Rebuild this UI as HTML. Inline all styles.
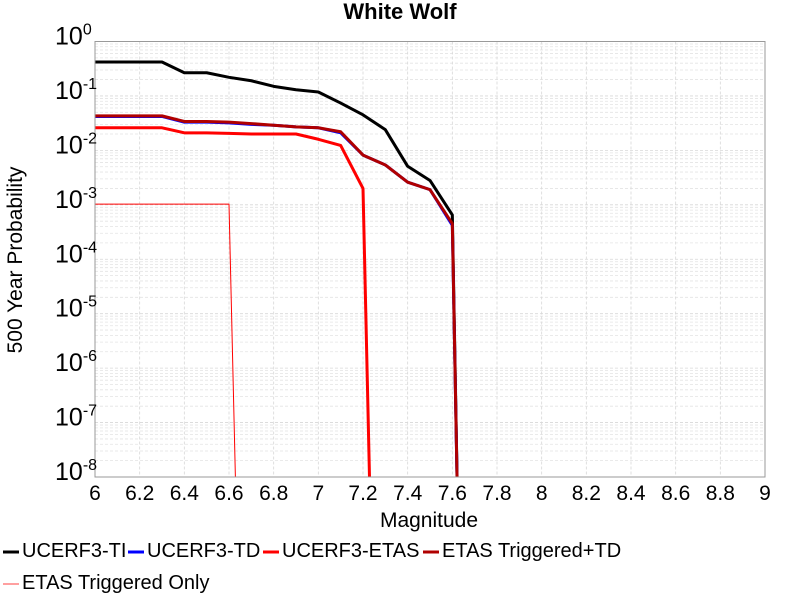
<!DOCTYPE html>
<html><head><meta charset="utf-8"><style>
body{margin:0;background:#fff;}
svg text{font-family:"Liberation Sans",sans-serif;}
</style></head><body>
<svg id="chart" width="800" height="600">
<text x="400" y="19" text-anchor="middle" font-size="22" font-weight="bold">White Wolf</text>
<g id="grid"></g>
<g id="series"></g>
<rect x="95" y="41.5" width="670" height="435.5" fill="none" stroke="#999" stroke-width="1"/>
<g id="axes"></g>
<text x="429" y="527" text-anchor="middle" font-size="21">Magnitude</text>
<text transform="translate(22,260) rotate(-90)" text-anchor="middle" font-size="21">500 Year Probability</text>
<g id="legend"></g>
</svg>
<script>
const mags = [6.0,6.1,6.2,6.3,6.4,6.5,6.6,6.7,6.8,6.9,7.0,7.1,7.2,7.3,7.4,7.5,7.6,7.63];
const ti = [0.42,0.42,0.42,0.42,0.267,0.267,0.22,0.19,0.15,0.13,0.118,0.074,0.045,0.024,0.0051,0.0028,0.00065,1e-10];
const td = [0.042,0.042,0.042,0.042,0.033,0.033,0.032,0.030,0.029,0.027,0.026,0.021,0.0082,0.0054,0.0026,0.0019,0.00042,1e-10];
const etasTD = [0.043,0.043,0.043,0.043,0.034,0.034,0.033,0.031,0.029,0.027,0.026,0.022,0.0082,0.0054,0.0026,0.0019,0.00045,1e-10];
const etasMags = [6.0,6.1,6.2,6.3,6.4,6.5,6.6,6.7,6.8,6.9,7.0,7.1,7.2,7.24];
const etas = [0.026,0.026,0.026,0.026,0.021,0.021,0.0205,0.020,0.020,0.020,0.016,0.0123,0.0020,1e-10];
const trigMags = [6.0,6.6,6.64];
const trig = [0.00103,0.00103,1e-10];
const xTicks = ["6","6.2","6.4","6.6","6.8","7","7.2","7.4","7.6","7.8","8","8.2","8.4","8.6","8.8","9"];
const yExps = [0,-1,-2,-3,-4,-5,-6,-7,-8];

const L=95,R=765,T=41.5,B=477;
const X=v=>L+(v-6)/(9-6)*(R-L);
const Y=v=>T+(0-Math.log10(v))/8*(B-T);
const NS="http://www.w3.org/2000/svg";
function mk(tag,attrs,parent){const e=document.createElementNS(NS,tag);for(const k in attrs)e.setAttribute(k,attrs[k]);parent.appendChild(e);return e;}
const grid=document.getElementById('grid'),axes=document.getElementById('axes'),ser=document.getElementById('series'),leg=document.getElementById('legend');

for(let i=0;i<8;i++){for(let m=2;m<=9;m++){const y=Y(m*Math.pow(10,-i-1));
const g=mk('line',{x1:L,x2:R,y1:y,y2:y,stroke:'#e4e4e4','stroke-width':0.8,'stroke-dasharray':'3,2'},grid);

}}
xTicks.forEach(t=>{const x=X(+t);
const g=mk('line',{x1:x,x2:x,y1:T,y2:B,stroke:'#d8d8d8','stroke-width':0.8,'stroke-dasharray':'3,2'},grid);


const tx=mk('text',{x:x,y:500,'text-anchor':'middle','font-size':21},axes);tx.textContent=t;

});
yExps.forEach(e=>{const y=Y(Math.pow(10,e));
const g=mk('line',{x1:L,x2:R,y1:y,y2:y,stroke:'#d8d8d8','stroke-width':0.8,'stroke-dasharray':'3,2'},grid);


const tx=mk('text',{x:55,y:y+3,'text-anchor':'start','font-size':25},axes);
tx.innerHTML='10<tspan dy="-10" font-size="16">'+e+'</tspan>';

});

const clip=mk('clipPath',{id:'pc'},ser);mk('rect',{x:L,y:T,width:R-L,height:B-T},clip);
const series=[
 {n:'UCERF3-TI',xs:mags,ys:ti,c:'#000',w:3,id:'ucerf3-ti'},
 {n:'UCERF3-TD',xs:mags,ys:td,c:'#0000ff',w:3,id:'ucerf3-td'},
 {n:'UCERF3-ETAS',xs:etasMags,ys:etas,c:'#ff0000',w:3,id:'ucerf3-etas'},
 {n:'ETAS Triggered+TD',xs:mags,ys:etasTD,c:'#b00000',w:3,id:'etas-triggered-td'},
 {n:'ETAS Triggered Only',xs:trigMags,ys:trig,c:'#ff0000',w:1,id:'etas-triggered-only'}];
series.forEach(s=>{const p=mk('polyline',{points:s.xs.map((x,i)=>X(x)+','+Y(s.ys[i])).join(' '),fill:'none',stroke:s.c,'stroke-width':s.w,'clip-path':'url(#pc)','stroke-linejoin':'round'},ser);

});

const legPos=[[3,549],[128,549],[263,549],[423,549],[3,581]];
const legCol=['#000','#0000ff','#ff0000','#b00000','#ff8080'];
series.forEach((s,i)=>{const [x,y]=legPos[i];const g=mk('g',{},leg);


mk('line',{x1:x,x2:x+16,y1:y+3,y2:y+3,stroke:legCol[i],'stroke-width':i==4?1.5:3},g);
const t=mk('text',{x:x+19,y:y+8,'font-size':20},g);t.textContent=s.n;});
</script>
</body></html>
